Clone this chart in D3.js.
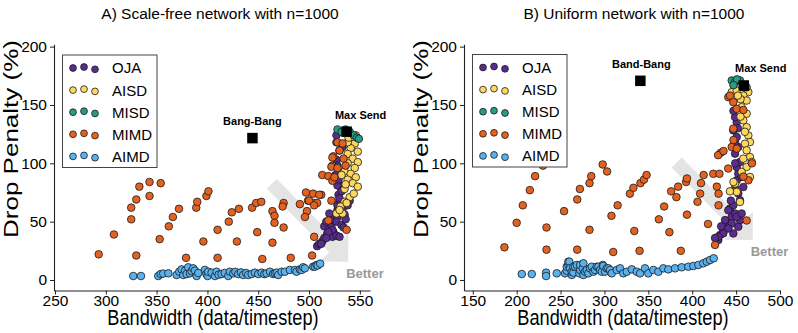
<!DOCTYPE html>
<html>
<head>
<meta charset="utf-8">
<script src="https://cdn.jsdelivr.net/npm/d3@7"></script>
<style>
  body { margin: 0; background: #fff; }
  svg { display: block; }
</style>
</head>
<body>
<div id="chart"></div>
<script>
// ---- categories / styles ----
const seriesNames = ["OJA", "AISD", "MISD", "MIMD", "AIMD"];
const seriesColors = ["#5b2c8f", "#fdd75e", "#2a9a86", "#e5611f", "#58b2ef"];
const drawOrder = ["AIMD", "OJA", "AISD", "MISD", "MIMD"];

const yTicks = [0, 50, 100, 150, 200];
const sfXTicks = [250, 300, 350, 400, 450, 500, 550];
const uniXTicks = [150, 200, 250, 300, 350, 400, 450, 500];

// ---- A) scale-free network ----
const sfOJA = [[508,29],[510,31],[513,33],[515,36],[518,40],[515,46],[520,44],[522,47],[524,41],[523,37],[527,38],[525,51],[522,52],[527,56],[528,60],[528,64],[530,68],[529,73],[532,77],[531,81],[528,81],[532,76],[530,70],[533,61],[530,58],[528,54],[527,50],[523,43],[519,41],[517,36],[512,31],[532,47],[535,56],[530,37],[527,103],[528,98],[530,111],[527,124],[533,114],[540,68],[538,64],[536,52],[534,45],[520,57],[517,50],[526,90],[529,86],[527,118]];
const sfAISD = [[545,117],[541,113],[548,110],[538,108],[543,104],[548,101],[538,100],[545,96],[535,93],[541,91],[546,88],[538,86],[543,83],[548,80],[535,78],[540,71],[535,67],[527,57],[538,118],[531,63],[533,57],[537,66],[544,74],[530,60],[546,124],[539,122],[532,90],[536,82]];
const sfMISD = [[528,129],[532,127],[540,127],[544,124],[547,122],[549,121],[536,129]];
const sfMIMD = [[293,22],[308,39],[330,21],[325,52],[325,62],[330,69],[333,80],[343,84],[343,72],[354,83],[353,35],[362,46],[366,54],[372,61],[379,19],[389,62],[390,67],[396,33],[399,72],[401,76],[410,43],[410,19],[421,50],[424,58],[431,61],[429,33],[444,62],[448,66],[453,67],[449,41],[454,18],
  [464,59],[466,55],[466,49],[464,32],[475,66],[474,63],[475,45],[482,19],[491,65],[497,75],[499,68],[498,59],[496,54],[505,66],[508,66],[512,73],[505,37],[503,21],[504,74],[510,73],[500,68],[505,64],
  [513,90],[519,89],[523,85],[525,88],[523,98],[524,106],[528,118],[533,117],[530,111],[523,105],[534,104],[522,97],[528,96],[536,98],[537,43],[519,51],[522,68]];
const sfAIMD = [[327,3.4],[334.6,3.4],[351.6,3.4],[354,5.1],[356.5,5.5],[361.5,5.7],[369.7,4.3],[372.3,7.1],[374.6,9.1],[376.2,4.3],[378,8],[379.5,5.1],[381.1,10.9],[382.8,5.7],[384.5,7.5],[386,10],[387.7,8],[389.4,3.4],[391,6],[397.5,8.6],[399,5],[400.2,3.4],[400.8,7.1],[404.1,6.3],[407.4,3.4],[409,7.1],[411,4.5],[413.9,5.1],[417,6],[420.5,3.4],[422.1,7.1],[425.4,5.7],[427.5,7],[430.3,5.1],[433,6.5],[435.2,4.3],[438,6],[440.1,4.3],[443.5,5.1],[446.7,6.3],[450,5.1],[453.3,6.3],[456,5],[458.2,5.7],[461.5,7.1],[464.7,5.1],[466.4,5.7],[468.1,6.3],[469.6,4.3],[473,7.1],[476.2,7.1],[481.1,8.6],[486.1,8.6],[487.7,7.1],[491,9.1],[492.6,8.6],[494.2,10.9],[495.9,10],[504,11.4],[505.7,11.4],[507.4,12.9],[508.5,12.5],[511,14]];
const sfBangBang = [444.3, 121.6];
const sfMaxSend = [537, 127.1];
const sfArrow = [[463.4, 82.3], [538.5, 15.7]];

// ---- B) uniform network ----
const uniOJA = [[429.7,34.2],[431.7,38.5],[435.4,42.7],[439.3,44.2],[441.1,49.8],[437.4,51.3],[445,54.1],[448.8,57],[443.1,61.3],[446.8,64.1],[454.4,51.3],[452.5,45.6],[446.8,39.9],[454.4,68.4],[452.5,74.1],[448.8,78.4],[450.7,85.5],[452.5,91.2],[450.7,96.8],[454.4,101.1],[448.8,108.3],[452.5,114],[448.8,118.2],[450.7,122.5],[446.8,128.2],[450.7,135.3],[448.8,139.6],[458.2,79.7],[456.3,88.3],[441.1,59.8],[450.7,54.1],[456.3,57],[445,48.5],[441.1,44.2],[435.4,39.9],[429.7,37],[426,36],[433,46],[444,68],[449,100],[447,145],[452,130]];
const uniAISD = [[445,161],[450.7,162.4],[463.9,161],[458.2,158.1],[462,153.8],[456.3,148.1],[462,142.5],[458.2,136.8],[462,131],[463.9,123.9],[465.8,118.2],[460.1,116.8],[462,111.1],[465.8,105.4],[467.8,101.1],[458.2,104],[462,96.8],[465.8,88.3],[450.7,75.5],[448.8,82.6],[454.4,66.9],[456.3,92.6],[443,76],[447,84],[455,155],[452,158],[460,127],[455,140]];
const uniMISD = [[445,171],[448.8,169.5],[454.4,171],[462,165.2],[458.2,165.2],[451,172],[447,167]];
const uniMIMD = [[186,28],[200,49],[207,64],[215,77],[221,89],[230,98],[234,45],[234,26],[254,59],[269,26],[269,69],[272,78],[283,83],[285,89],[283,43],[298,99],[303,93],[308,55],[310,24],[315,64],[329,74],[333,79],[334,42],[341,83],[345,86],[348,90],[340,25],[362,52],[368,63],[376,76],[382,71],[384,80],[393,84],[394,87],[394,56],[374,41],[387,25],[406,67],[409,74],[410,83],[413,90],[418,48],
  [424,91],[431,91],[428,80],[430,74],[430,64],[426,30],[462,51],[441,95.5],[468,100],[464,85.5],[432.5,109],[429.5,107],[435.6,110.5],[445,114],[450.7,112.6],[446.8,129.7],[441.1,156.7],[446.8,152.4],[450.7,146.7],[447,120],[458.3,145.7],[458.3,88.6],[443,158]];
const uniAIMD = [[205.8,5.1],[217.2,5.1],[233.5,6.3],[233.5,3.4],[245.7,5.7],[255.1,5.7],[257,8],[257,11.4],[258.9,12.9],[258.9,15.7],[260,15.7],[260.8,10],[262.8,4.3],[262.8,7.1],[264.6,6.3],[264.6,11.4],[266.5,11.4],[268.5,12.9],[271.4,5.7],[272.2,8.6],[272.2,12.9],[275.3,10],[276,14.3],[276,4.3],[277.9,7.1],[279.8,8.6],[281.7,5.7],[283.6,10],[285.5,11.4],[287.4,7.1],[289.3,8.6],[291.2,11.4],[293.1,11.4],[295,8.6],[296.9,7.1],[298.1,12.9],[298.7,12],[300.7,7.1],[302.6,10],[304.4,10],[306.4,8.6],[308.3,5.7],[314,8.6],[317.8,10],[321.5,5.7],[325.4,7.1],[331.1,9.1],[336.8,7.1],[340.6,5.7],[346.2,10],[350,5.7],[355.7,8.6],[361.4,7.1],[367.1,10],[372.8,9.1],[380.4,10],[388,10.9],[395.6,11.4],[401.3,12],[407,12.9],[412.6,14.3],[416.5,15.7],[420.3,17.1],[424.5,18.6]];
const uniBangBang = [340.9, 170.7];
const uniMaxSend = [458.7, 166.7];
const uniArrow = [[382.3, 100.7], [468.9, 34.3]];

const FONT = '"Liberation Sans", Arial, Helvetica, sans-serif';
const W = 798, H = 333;

const svg = d3.select("#chart").append("svg")
    .attr("width", W).attr("height", H)
    .style("font-family", FONT);

const panels = [
    {
        title: "A) Scale-free network with n=1000", titleX: 220,
        xDomain: [249, 560], xRange: [54, 370], xTicks: sfXTicks,
        data: { OJA: sfOJA, AISD: sfAISD, MISD: sfMISD, MIMD: sfMIMD, AIMD: sfAIMD },
        bang: sfBangBang, bangLabel: "Bang-Bang", bangDx: 0,
        maxSend: sfMaxSend, maxDx: 14,
        arrow: sfArrow, legendX: 62.5, legendY: 55
    },
    {
        title: "B) Uniform network with n=1000", titleX: 634,
        xDomain: [140, 500], xRange: [464, 780], xTicks: uniXTicks,
        data: { OJA: uniOJA, AISD: uniAISD, MISD: uniMISD, MIMD: uniMIMD, AIMD: uniAIMD },
        bang: uniBangBang, bangLabel: "Band-Bang", bangDx: 1,
        maxSend: uniMaxSend, maxDx: 17,
        arrow: uniArrow, legendX: 472.5, legendY: 54.5
    }
];

const colorOf = d3.scaleOrdinal().domain(seriesNames).range(seriesColors);

panels.forEach(p => {
    const x = d3.scaleLinear().domain(p.xDomain).range(p.xRange);
    const y = d3.scaleLinear().domain([-9, 202]).range([290.5, 44.3]);
    const g = svg.append("g");

    // title
    g.append("text")
        .attr("x", p.titleX).attr("y", 19)
        .attr("text-anchor", "middle")
        .style("font-size", "15.5px")
        .text(p.title);

    // axes
    const yAxis = g.append("g")
        .attr("transform", `translate(${p.xRange[0]},0)`)
        .call(d3.axisLeft(y).tickValues(yTicks).tickSize(4).tickSizeOuter(0).tickPadding(3));
    const xAxis = g.append("g")
        .attr("transform", `translate(0,${y.range()[0]})`)
        .call(d3.axisBottom(x).tickValues(p.xTicks).tickSize(4).tickSizeOuter(0).tickPadding(0.5));
    [xAxis, yAxis].forEach(a => {
        a.attr("font-family", FONT).attr("font-size", 15.5);
        a.selectAll("text").attr("fill", "#000");
        a.select(".domain").attr("stroke", "#222").attr("stroke-width", 1.1);
        a.selectAll(".tick line").attr("stroke", "#222");
    });

    // axis labels (slightly taller than wide, as in the source figure)
    const cx = (p.xRange[0] + p.xRange[1]) / 2;
    g.append("text")
        .attr("transform", `translate(${cx + 1},325) scale(1,1.2)`)
        .attr("text-anchor", "middle")
        .style("font-size", "18.2px")
        .text("Bandwidth (data/timestep)");
    g.append("text")
        .attr("transform", `translate(${p.xRange[0] - 36},139) rotate(-90) scale(1.3,1)`)
        .attr("text-anchor", "middle")
        .style("font-size", "20px")
        .text("Drop Penalty (%)");

    // "Better" arrow (built in pixel space from data endpoints)
    const s = [x(p.arrow[0][0]), y(p.arrow[0][1])];
    const t = [x(p.arrow[1][0]), y(p.arrow[1][1])];
    const dx = t[0] - s[0], dy = t[1] - s[1], len = Math.hypot(dx, dy);
    const u = [dx / len, dy / len], n = [-u[1], u[0]];
    const hw = 7, headW = 20, headL = 20;
    const b = [t[0] - u[0] * headL, t[1] - u[1] * headL];
    const pt = (o, k) => [o[0] + n[0] * k, o[1] + n[1] * k];
    const poly = [pt(s, hw), pt(b, hw), pt(b, headW), t, pt(b, -headW), pt(b, -hw), pt(s, -hw)];
    g.append("polygon")
        .attr("points", poly.map(q => q.join(",")).join(" "))
        .attr("fill", "#e4e4e4");
    g.append("text")
        .attr("x", t[0] - 2).attr("y", t[1] + 16)
        .style("font-size", "13px").style("font-weight", "bold")
        .attr("fill", "#999")
        .text("Better");

    // scatter points
    drawOrder.forEach(name => {
        g.append("g").selectAll("circle")
            .data(p.data[name])
            .join("circle")
            .attr("cx", d => x(d[0]))
            .attr("cy", d => y(d[1]))
            .attr("r", 3.8)
            .attr("fill", colorOf(name))
            .attr("stroke", "#1a1a1a")
            .attr("stroke-width", 0.8);
    });

    // special strategies
    const sq = 10.5;
    [[p.bang, p.bangLabel, p.bangDx], [p.maxSend, "Max Send", p.maxDx]].forEach(([pos, label, ldx]) => {
        g.append("rect")
            .attr("x", x(pos[0]) - sq / 2).attr("y", y(pos[1]) - sq / 2)
            .attr("width", sq).attr("height", sq)
            .attr("fill", "#000");
        g.append("text")
            .attr("x", x(pos[0]) + ldx).attr("y", y(pos[1]) - 13)
            .attr("text-anchor", "middle")
            .style("font-size", "11px").style("font-weight", "bold")
            .text(label);
    });

    // legend
    const lg = g.append("g").attr("transform", `translate(${p.legendX},${p.legendY})`);
    lg.append("rect")
        .attr("width", 94.5).attr("height", 112.5)
        .attr("fill", "#fff").attr("stroke", "#444").attr("stroke-width", 1);
    const mx = [10.5, 21.5, 32.5], my = [0, -1, 1.3];
    seriesNames.forEach((name, i) => {
        const ry = 13 + i * 22.1;
        mx.forEach((ox, j) => {
            lg.append("circle")
                .attr("cx", ox).attr("cy", ry + my[j]).attr("r", 3.4)
                .attr("fill", colorOf(name))
                .attr("stroke", "#1a1a1a").attr("stroke-width", 0.8);
        });
        lg.append("text")
            .attr("x", 49.5).attr("y", ry).attr("dy", "0.36em")
            .style("font-size", "15px")
            .text(name);
    });
});
</script>
</body>
</html>
